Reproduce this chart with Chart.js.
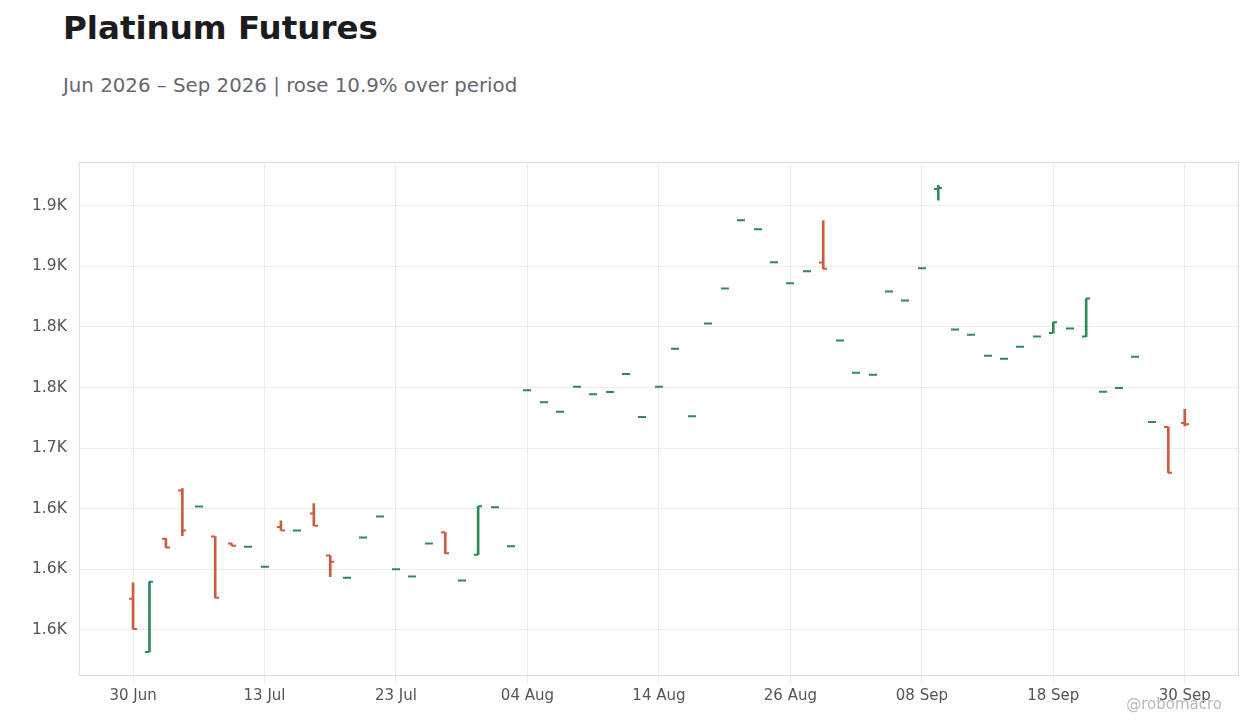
<!DOCTYPE html>
<html><head><meta charset="utf-8">
<script src="https://cdn.jsdelivr.net/npm/chart.js@4"></script>
<style>
html,body{margin:0;padding:0;background:#fff;width:1260px;height:728px;overflow:hidden;font-family:"DejaVu Sans",sans-serif}
#t{position:absolute;left:63px;top:9px;font-size:32.5px;font-weight:bold;color:#1c1c20}
#s{position:absolute;left:63px;top:74px;font-size:19.8px;color:#666670}
#w{position:absolute;right:38px;top:695px;font-size:15px;color:#b8b8bc}
#c{position:absolute;left:0;top:130px}
</style></head><body>
<div id="t">Platinum Futures</div>
<div id="s">Jun 2026 – Sep 2026 | rose 10.9% over period</div>
<canvas id="c" width="1260" height="598"></canvas>
<div id="w">@robomacro</div>
<script>
const dates=["30 Jun","01 Jul","02 Jul","06 Jul","07 Jul","08 Jul","09 Jul","10 Jul","13 Jul","14 Jul","15 Jul","16 Jul","17 Jul","20 Jul","21 Jul","22 Jul","23 Jul","24 Jul","27 Jul","28 Jul","29 Jul","30 Jul","31 Jul","03 Aug","04 Aug","05 Aug","06 Aug","07 Aug","10 Aug","11 Aug","12 Aug","13 Aug","14 Aug","17 Aug","18 Aug","19 Aug","20 Aug","21 Aug","24 Aug","25 Aug","26 Aug","27 Aug","28 Aug","31 Aug","01 Sep","02 Sep","03 Sep","04 Sep","08 Sep","09 Sep","10 Sep","11 Sep","14 Sep","15 Sep","16 Sep","17 Sep","18 Sep","21 Sep","22 Sep","23 Sep","24 Sep","25 Sep","28 Sep","29 Sep","30 Sep"];
const open=[1575.7,1531.8,1625.3,1665,1651.8,1627,1621.2,1618.7,1602.2,1635,1632,1646,1611.3,1593,1626.2,1643.5,1600,1594,1621.2,1630.5,1590.8,1612,1651.2,1619,1747.8,1737.9,1729.9,1750.6,1744.5,1746.2,1761.1,1725.7,1750.6,1782,1726.3,1802.7,1831.7,1888,1880.6,1853.3,1835.9,1845.8,1853,1788.7,1762.2,1760.5,1829.2,1821.8,1848.3,1913.8,1797.8,1793.6,1776.2,1773.7,1783.7,1792,1795,1798.6,1792,1746.5,1749.5,1775.4,1721.6,1717.5,1720.8];
const high=[1588.9,1589.7,1625.3,1666.7,1651.8,1627,1621.2,1618.7,1602.2,1640,1632,1654.3,1611.3,1593,1626.2,1643.5,1600,1594,1621.2,1630.5,1590.8,1652,1651.2,1619,1747.8,1737.9,1729.9,1750.6,1744.5,1746.2,1761.1,1725.7,1750.6,1782,1726.3,1802.7,1831.7,1888,1880.6,1853.3,1835.9,1845.8,1887.7,1788.7,1762.2,1760.5,1829.2,1821.8,1848.3,1916.7,1797.8,1793.6,1776.2,1773.7,1783.7,1792,1803.9,1798.6,1823.4,1746.5,1749.5,1775.4,1721.6,1717.5,1732];
const low=[1550.8,1531.8,1617.9,1627.8,1651.8,1576.5,1619.5,1618.7,1602.2,1632,1632,1636,1593.9,1593,1626.2,1643.5,1600,1594,1621.2,1613.2,1590.8,1612,1651.2,1619,1747.8,1737.9,1729.9,1750.6,1744.5,1746.2,1761.1,1725.7,1750.6,1782,1726.3,1802.7,1831.7,1888,1880.6,1853.3,1835.9,1845.8,1848,1788.7,1762.2,1760.5,1829.2,1821.8,1848.3,1904.5,1797.8,1793.6,1776.2,1773.7,1783.7,1792,1795,1798.6,1792,1746.5,1749.5,1775.4,1721.6,1679.7,1718.3];
const close=[1550.8,1589.7,1617.9,1632,1651.8,1576.5,1619.5,1618.7,1602.2,1632,1632,1636,1606.3,1593,1626.2,1643.5,1600,1594,1621.2,1613.2,1590.8,1652,1651.2,1619,1747.8,1737.9,1729.9,1750.6,1744.5,1746.2,1761.1,1725.7,1750.6,1782,1726.3,1802.7,1831.7,1888,1880.6,1853.3,1835.9,1845.8,1848,1788.7,1762.2,1760.5,1829.2,1821.8,1848.3,1914.5,1797.8,1793.6,1776.2,1773.7,1783.7,1792,1803.9,1798.6,1823.4,1746.5,1749.5,1775.4,1721.6,1679.7,1719.7];
const xTickIdx=[0,8,16,24,32,40,48,56,64];
const yTicks=[1550,1600,1650,1700,1750,1800,1850,1900];

const UP='#2e8b57',DOWN='#cd5c3c';
const col=close.map((c,i)=>c>=open[i]?UP:DOWN);
const ohlcTicks={id:'ohlcTicks',afterDatasetsDraw(ch){
  const {ctx,scales:{x,y},chartArea:a}=ch;
  ctx.save();
  ctx.lineWidth=2;
  dates.forEach((d,i)=>{
    const px=Math.round(x.getPixelForValue(i));
    ctx.strokeStyle=col[i];
    let yo=y.getPixelForValue(open[i]),yc=y.getPixelForValue(close[i]);
    ctx.beginPath();ctx.moveTo(px-4,yo);ctx.lineTo(px,yo);ctx.moveTo(px,yc);ctx.lineTo(px+4,yc);ctx.stroke();
  });
  ctx.strokeStyle='#dddddd';ctx.lineWidth=1;
  ctx.strokeRect(a.left+0.5,a.top+0.5,a.right-a.left-1,a.bottom-a.top-1);
  ctx.restore();
}};
new Chart(document.getElementById('c'),{
  type:'bar',
  data:{datasets:[{data:dates.map((d,i)=>({x:i,y:[low[i],high[i]]})),backgroundColor:col,barThickness:2,borderWidth:0,borderSkipped:false}]},
  options:{responsive:false,animation:false,
    layout:{padding:{top:32,right:21,left:20,bottom:20}},
    plugins:{legend:{display:false},tooltip:{enabled:false}},
    scales:{
      x:{type:'linear',min:-3.3,max:67.3,offset:false,
        afterBuildTicks(s){s.ticks=xTickIdx.map(v=>({value:v}));},
        ticks:{callback:v=>dates[v],color:'#555',font:{size:15,family:'DejaVu Sans'},maxRotation:0,autoSkip:false},
        grid:{color:'#ececec',offset:false,drawTicks:true,tickLength:8},border:{display:false}},
      y:{min:1512,max:1936,
        afterBuildTicks(s){s.ticks=yTicks.map(v=>({value:v}));},
        ticks:{callback:v=>(v/1000).toFixed(1)+'K',color:'#555',font:{size:15.5,family:'DejaVu Sans'},padding:12},
        grid:{color:'#ececec',drawTicks:false},border:{display:false}}
    }},
  plugins:[ohlcTicks]
});
</script></body></html>
